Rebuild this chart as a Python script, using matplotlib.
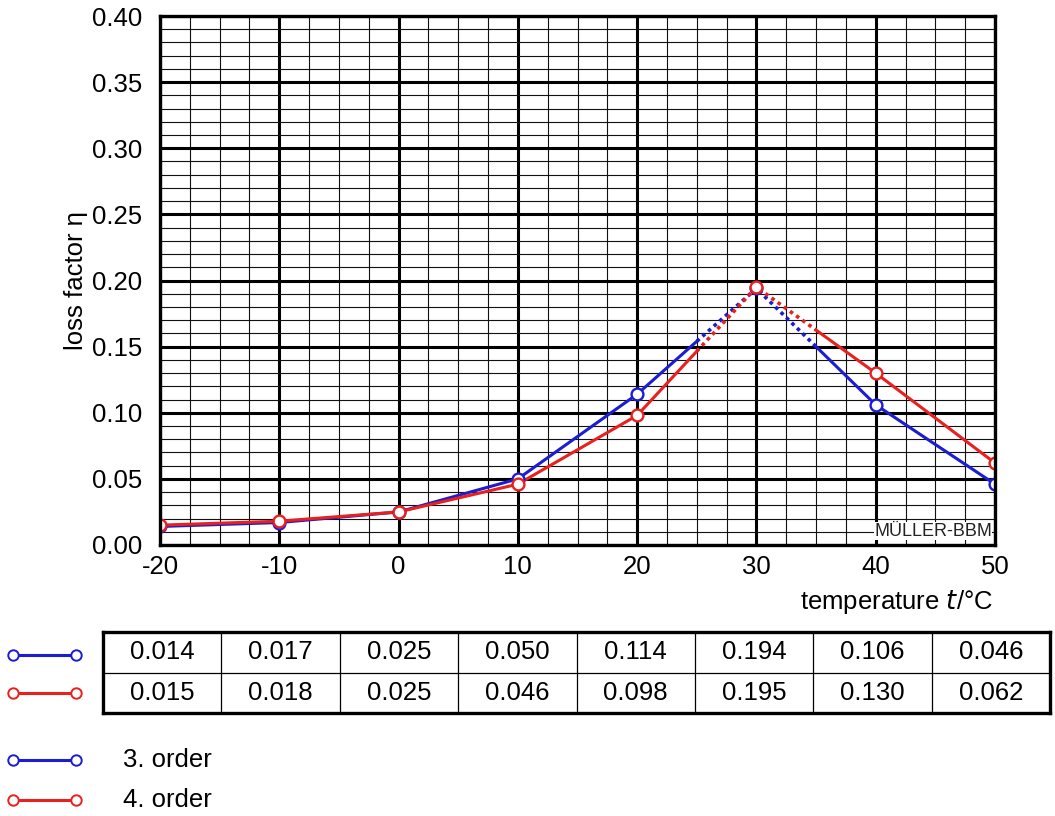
import numpy as np
import matplotlib.pyplot as plt
from matplotlib.ticker import MultipleLocator

plt.rcParams['font.family'] = ['Liberation Sans', 'DejaVu Sans']

temps = [-20, -10, 0, 10, 20, 30, 40, 50]
order3 = [0.014, 0.017, 0.025, 0.050, 0.114, 0.194, 0.106, 0.046]
order4 = [0.015, 0.018, 0.025, 0.046, 0.098, 0.195, 0.130, 0.062]
labels = ['3. order', '4. order']
blue = '#1c1cd2'
red = '#e8201e'
colors = [blue, red]
fs = 18.5

fig = plt.figure(figsize=(10.55, 8.16), dpi=100)
W, H = 1055, 816

ax = fig.add_axes([160 / W, 1 - 545 / H, 835 / W, 529 / H])
ax.set_xlim(-20, 50)
ax.set_ylim(0, 0.40)
ax.xaxis.set_major_locator(MultipleLocator(10))
ax.xaxis.set_minor_locator(MultipleLocator(2.5))
ax.yaxis.set_major_locator(MultipleLocator(0.05))
ax.yaxis.set_minor_locator(MultipleLocator(0.01))
ax.grid(which='major', color='black', lw=2.2, zorder=1)
ax.grid(which='minor', color='#111111', lw=0.8, zorder=1)
ax.set_axisbelow(True)
ax.tick_params(which='both', length=0, labelsize=fs)
ax.tick_params(axis='x', pad=7)
ax.tick_params(axis='y', pad=13)
ax.set_xticks(temps)
ax.set_xticklabels([str(t) for t in temps])
ax.yaxis.set_major_formatter(plt.FuncFormatter(lambda v, p: '%.2f' % v))
for s in ax.spines.values():
    s.set_linewidth(2.4)
    s.set_zorder(5)

x = np.array(temps, dtype=float)
for ys, c in zip([order3, order4], colors):
    y = np.array(ys)
    # dotted part around the peak (midpoints of 20-30 and 30-40)
    xm1, ym1 = (x[4] + x[5]) / 2, (y[4] + y[5]) / 2
    xm2, ym2 = (x[5] + x[6]) / 2, (y[5] + y[6]) / 2
    ax.plot(list(x[:5]) + [xm1], list(y[:5]) + [ym1], color=c, lw=2.2, zorder=3)
    ax.plot([xm1, x[5], xm2], [ym1, y[5], ym2], color=c, lw=2.6,
            linestyle=(0, (1, 1.1)), zorder=3)
    ax.plot([xm2] + list(x[6:]), [ym2] + list(y[6:]), color=c, lw=2.2, zorder=3)
    ax.plot(x, y, ls='none', marker='o', ms=8.5, mfc='white', mec=c,
            mew=1.7, zorder=4)

ax.text(49.75, 0.0105, 'MÜLLER-BBM', ha='right', va='center', fontsize=13,
        color='#222222', zorder=6,
        bbox=dict(facecolor='white', edgecolor='none', pad=0.3))

ax.set_ylabel('loss factor η', fontsize=fs, labelpad=3)
fig.text(993 / W, 1 - 602 / H, r'temperature $\it{t}$/°C', ha='right',
         va='center', fontsize=fs)

# value table
tab = fig.add_axes([103 / W, 1 - 713 / H, 947 / W, 81 / H])
tab.set_xlim(0, 8)
tab.set_ylim(0, 2)
tab.set_xticks([])
tab.set_yticks([])
for s in tab.spines.values():
    s.set_linewidth(2.4)
for i in range(1, 8):
    tab.axvline(i, color='black', lw=0.9)
tab.axhline(1, color='black', lw=0.9)
for r, ys in enumerate([order3, order4]):
    for i, v in enumerate(ys):
        tab.text(i + 0.5, 1.5 - r, '%.3f' % v, ha='center', va='center',
                 fontsize=fs)

# legend keys
key = fig.add_axes([0, 0, 1, 1], facecolor='none')
key.set_xlim(0, W)
key.set_ylim(H, 0)
key.axis('off')
for yk, c in zip([655, 693], colors):
    key.plot([13, 76], [yk, yk], color=c, lw=2.2, marker='o', ms=7.5,
             mfc='white', mec=c, mew=1.4)
for yk, c, lab in zip([760, 800], colors, labels):
    key.plot([13, 76], [yk, yk], color=c, lw=2.2, marker='o', ms=7.5,
             mfc='white', mec=c, mew=1.4)
    key.text(123, yk, lab, ha='left', va='center', fontsize=fs)

fig.savefig('out.png', dpi=100)
